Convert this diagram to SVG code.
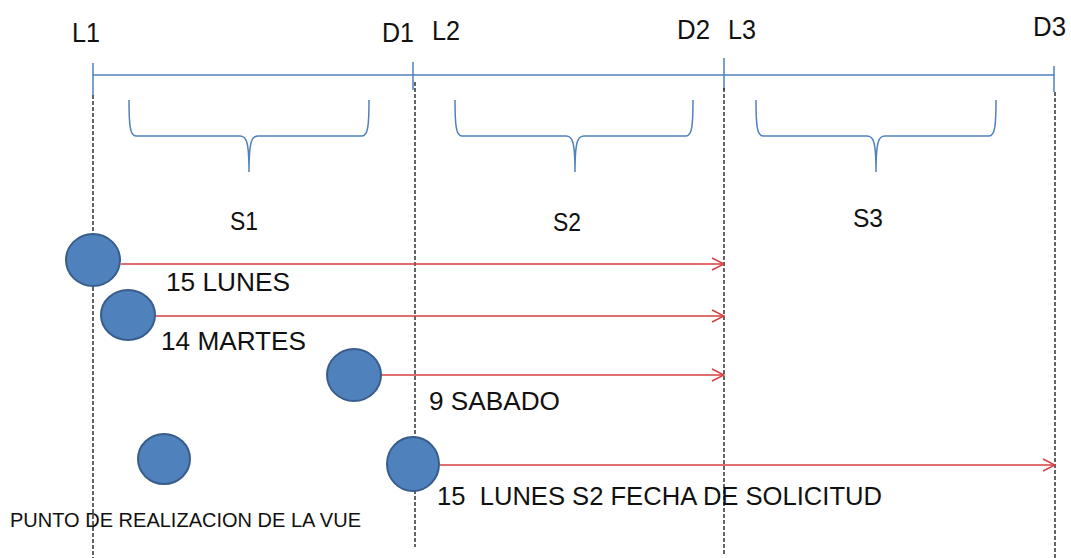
<svg xmlns="http://www.w3.org/2000/svg" width="1071" height="558" viewBox="0 0 1071 558">
<defs>
<style>
.t{font-family:"Liberation Sans",Arial,sans-serif;fill:#111}
.blue{stroke:#4F81BD;stroke-width:1.5;fill:none}
.dash{stroke:#111;stroke-width:1.3;stroke-dasharray:4,2;fill:none}
.arr{stroke:#D43F3F;stroke-width:1.5;fill:none;marker-end:url(#ah)}
.dot{fill:#4F81BD;stroke:#385D8A;stroke-width:2}
</style>
<marker id="ah" viewBox="0 0 14 14" refX="13" refY="7" markerWidth="14" markerHeight="14" markerUnits="userSpaceOnUse" orient="auto">
<path d="M1,1 L13,7 L1,13" fill="none" stroke="#D43F3F" stroke-width="1.5"/>
</marker>
</defs>
<rect width="1071" height="558" fill="#fff"/>
<g id="timeline">
<line class="blue" x1="93" y1="75" x2="1054" y2="75"/>
<line class="blue" x1="93" y1="63" x2="93" y2="95"/>
<line class="blue" x1="413" y1="62" x2="413" y2="90"/>
<line class="blue" x1="724" y1="58" x2="724" y2="90"/>
<line class="blue" x1="1054" y1="66" x2="1054" y2="92"/>
</g>
<g id="guides">
<line class="dash" x1="93" y1="95" x2="93" y2="558"/>
<line class="dash" x1="415" y1="82" x2="415" y2="547"/>
<line class="dash" x1="724" y1="88" x2="724" y2="555"/>
<line class="dash" x1="1055" y1="92" x2="1055" y2="558"/>
</g>
<g id="braces">
<path class="blue" d="M129,100 C129,125 130,136 136,136 L240,136 C246,136 249,140 249,172 C249,140 252,136 258,136 L362,136 C368,136 369,125 369,100"/>
<path class="blue" d="M455,100 C455,125 456,136 462,136 L566,136 C572,136 575,140 575,172 C575,140 578,136 584,136 L686,136 C692,136 693,125 693,100"/>
<path class="blue" d="M756,100 C756,125 757,136 763,136 L867,136 C873,136 876,140 876,172 C876,140 879,136 885,136 L989,136 C995,136 996,125 996,100"/>
</g>
<g id="labels">
<text class="t" x="72" y="42" font-size="27" textLength="28" lengthAdjust="spacingAndGlyphs">L1</text>
<text class="t" x="382" y="42" font-size="27" textLength="32" lengthAdjust="spacingAndGlyphs">D1</text>
<text class="t" x="432" y="40" font-size="27" textLength="28" lengthAdjust="spacingAndGlyphs">L2</text>
<text class="t" x="677" y="39" font-size="27" textLength="33" lengthAdjust="spacingAndGlyphs">D2</text>
<text class="t" x="728" y="39" font-size="27" textLength="28" lengthAdjust="spacingAndGlyphs">L3</text>
<text class="t" x="1033" y="36" font-size="27" textLength="33" lengthAdjust="spacingAndGlyphs">D3</text>
<text class="t" x="230" y="230" font-size="26" textLength="28" lengthAdjust="spacingAndGlyphs">S1</text>
<text class="t" x="553" y="231" font-size="26" textLength="28" lengthAdjust="spacingAndGlyphs">S2</text>
<text class="t" x="853" y="227" font-size="26" textLength="30" lengthAdjust="spacingAndGlyphs">S3</text>
</g>
<g id="connectors">
<line class="arr" x1="121" y1="264" x2="724" y2="264"/>
<line class="arr" x1="155" y1="316" x2="724" y2="316"/>
<line class="arr" x1="381" y1="375" x2="724" y2="375"/>
<line class="arr" x1="440" y1="465" x2="1055" y2="465"/>
</g>
<g id="node1"><ellipse class="dot" cx="93" cy="260" rx="27" ry="26"/><text class="t" x="166" y="291" font-size="26" textLength="124" lengthAdjust="spacingAndGlyphs">15 LUNES</text></g>
<g id="node2"><ellipse class="dot" cx="128" cy="315" rx="27" ry="25"/><text class="t" x="161" y="350" font-size="26" textLength="145" lengthAdjust="spacingAndGlyphs">14 MARTES</text></g>
<g id="node3"><ellipse class="dot" cx="354" cy="375" rx="27" ry="26"/><text class="t" x="429" y="410" font-size="26" textLength="131" lengthAdjust="spacingAndGlyphs">9 SABADO</text></g>
<g id="node4"><ellipse class="dot" cx="164" cy="459" rx="26" ry="25"/><text class="t" x="10" y="527" font-size="21" textLength="351" lengthAdjust="spacingAndGlyphs">PUNTO DE REALIZACION DE LA VUE</text></g>
<g id="node5"><ellipse class="dot" cx="413" cy="464" rx="26" ry="27"/><text class="t" x="437" y="505" font-size="26" textLength="445" lengthAdjust="spacingAndGlyphs" xml:space="preserve">15  LUNES S2 FECHA DE SOLICITUD</text></g>
</svg>
